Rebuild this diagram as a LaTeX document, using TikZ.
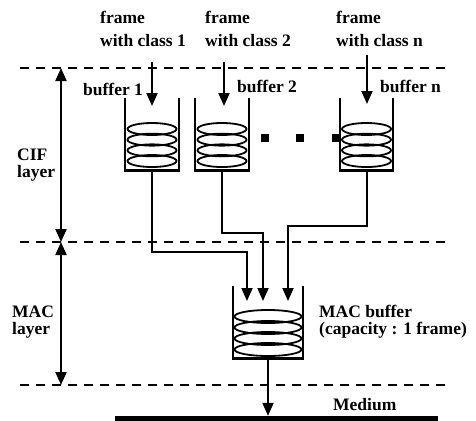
\documentclass[tikz,border=0pt]{standalone}
\usepackage{fontspec}
\setmainfont{Liberation Serif}
\usetikzlibrary{arrows.meta}
\begin{document}
\begin{tikzpicture}[x=1pt,y=-1pt,
  lab/.style={inner sep=0pt, anchor=base west, font=\fontsize{17.5}{20}\selectfont\bfseries},
  arr/.style={line width=2pt, -{Triangle[length=13pt,width=11pt]}},
  darr/.style={line width=2pt, {Triangle[length=13pt,width=11pt]}-{Triangle[length=13pt,width=11pt]}},
  dashline/.style={line width=2.4pt, dash pattern=on 9pt off 7pt},
  bufbox/.style={inner sep=0pt, minimum width=53pt, minimum height=72pt},
  macbox/.style={inner sep=0pt, minimum width=70pt, minimum height=72pt},
  wall/.style={line width=2.2pt},
  coil/.style={line width=1.8pt},
  dotsq/.style={fill=black, inner sep=0pt, minimum size=8pt},
]
\useasboundingbox (0,0) rectangle (476,420);

% dashed layer boundaries
\coordinate (la) at (20,68);  \coordinate (lae) at (452,68);
\coordinate (lb) at (20,242); \coordinate (lbe) at (452,242);
\coordinate (lc) at (20,385); \coordinate (lce) at (452,385);
\draw[dashline] (la) -- (lae);
\draw[dashline] (lb) -- (lbe);
\draw[dashline] (lc) -- (lce);

% layer arrows
\coordinate (v1) at (61,68);
\coordinate (v2) at (61,242);
\coordinate (v3) at (61,385);
\draw[darr] (v1) -- (v2);
\draw[darr] (v2) -- (v3);

\node[lab] (cif1) at (17,160) {CIF};
\node[lab] (cif2) at (17,177) {layer};
\node[lab] (mac1) at (12,317) {MAC};
\node[lab] (mac2) at (12,334) {layer};

% dots
\node[dotsq] (d1) at (265,138) {};
\node[dotsq] (d2) at (300,138) {};
\node[dotsq] (d3) at (336,138) {};

% class buffers
\node[bufbox] (b1) at (152,134) {};
\node[bufbox] (b2) at (222,134) {};
\node[bufbox] (bn) at (366.5,134) {};
\foreach \b in {b1,b2,bn}{
  \draw[wall] (\b.north west) -- (\b.south west);
  \draw[wall] (\b.north east) -- (\b.south east);
  \draw[line width=3pt] ([xshift=-1.1pt]\b.south west) -- ([xshift=1.1pt]\b.south east);
  \foreach \k in {0,1,2,3}{
    \draw[coil] ([yshift={(5-10.67*\k)*1pt}]\b.center) ellipse [x radius=24.5pt, y radius=6pt];
  }
}

% MAC buffer
\node[macbox] (mb) at (268,322) {};
\draw[wall] (mb.north west) -- (mb.south west);
\draw[wall] (mb.north east) -- (mb.south east);
\draw[line width=3pt] ([xshift=-1.1pt]mb.south west) -- ([xshift=1.1pt]mb.south east);
\foreach \k in {0,1,2,3}{
  \draw[coil] ([yshift={(5.5-11*\k)*1pt}]mb.center) ellipse [x radius=33.5pt, y radius=6.5pt];
}

% input arrows
\coordinate (s1) at (152,62);  \coordinate (e1) at (152,106);
\coordinate (s2) at (224,62);  \coordinate (e2) at (224,106);
\coordinate (sn) at (367,55);  \coordinate (en) at (367,104);
\draw[arr] (s1) -- (e1);
\draw[arr] (s2) -- (e2);
\draw[arr] (sn) -- (en);

% connectors to MAC buffer
\coordinate (m1) at (247,301);
\coordinate (m2) at (263,301);
\coordinate (m3) at (288,301);
\draw[arr] (b1.south) -- ++(0,82) -| (m1);
\draw[arr] (b2.south) -- ++(0,63) -| (m2);
\draw[arr] (bn.south) -- ++(0,56) -| (m3);

% medium
\node[fill=black, inner sep=0pt, minimum width=323pt, minimum height=5pt] (med) at (276.5,418.5) {};
\draw[arr] (mb.south) -- (mb.south |- med.north);
\node[lab] (medt) at (333,410) {Medium};

% labels
\node[lab] (f1a) at (100,24) {frame};
\node[lab] (f1b) at (100,46) {with class 1};
\node[lab] (f2a) at (205,24) {frame};
\node[lab] (f2b) at (205,46) {with class 2};
\node[lab] (fna) at (336,24) {frame};
\node[lab] (fnb) at (336,46) {with class n};

\node[lab] (bl1) at (83,95) {buffer 1};
\node[lab] (bl2) at (237,92) {buffer 2};
\node[lab] (bln) at (380,92) {buffer n};

\node[lab] (mbl1) at (319,317) {MAC buffer};
\node[lab] (mbl2) at (319,334) {(capacity : 1 frame)};
\end{tikzpicture}
\end{document}
